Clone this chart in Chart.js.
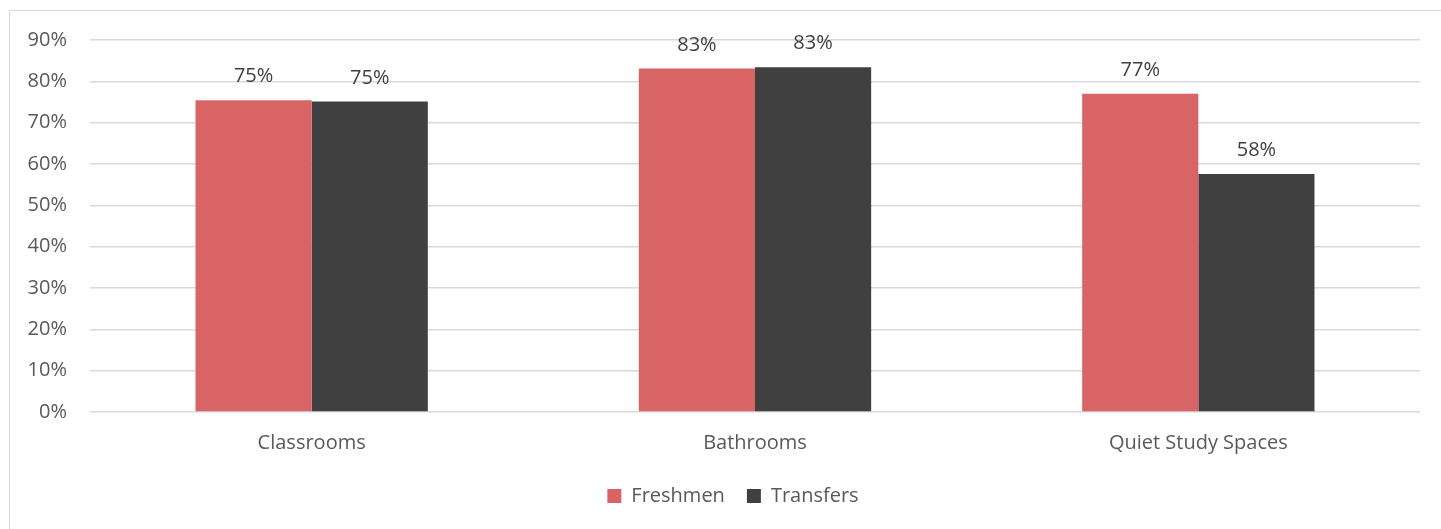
<!DOCTYPE html>
<html>
<head>
<meta charset="utf-8">
<script src="https://cdn.jsdelivr.net/npm/chart.js@4"></script>
<style>
  html, body { margin: 0; padding: 0; background: #fff; }
  #wrap { position: relative; width: 1441px; height: 529px; overflow: hidden; }
  #frame { position: absolute; left: 9px; top: 10px; width: 1450px; height: 540px; border: 1px solid #d9d9d9; box-sizing: border-box; }
  #chart { position: absolute; left: 0; top: 0; }
</style>
</head>
<body>
<div id="wrap">
  <div id="frame"></div>
  <canvas id="chart" width="1441" height="529"></canvas>
</div>
<script>
const categories = ['Classrooms', 'Bathrooms', 'Quiet Study Spaces'];
const freshmen = [75.4, 83.1, 77.0];
const transfers = [75.1, 83.4, 57.6];
const yTicks = [0, 10, 20, 30, 40, 50, 60, 70, 80, 90];

const FONT = '"Open Sans", sans-serif';

// draws the rounded percentage above every bar
const barLabels = {
  id: 'barLabels',
  afterDatasetsDraw(chart) {
    const ctx = chart.ctx;
    ctx.save();
    ctx.font = '20px ' + FONT;
    ctx.fillStyle = '#404040';
    ctx.textAlign = 'center';
    ctx.textBaseline = 'alphabetic';
    chart.data.datasets.forEach((ds, i) => {
      chart.getDatasetMeta(i).data.forEach((bar, j) => {
        ctx.fillText(Math.round(ds.data[j]) + '%', bar.x, bar.y - 18);
      });
    });
    ctx.restore();
  }
};

// the original legend sits a little right of the canvas centre
const legendShift = {
  id: 'legendShift',
  afterLayout(chart) {
    chart.legend.left += 23;
    chart.legend.right += 23;
  }
};

new Chart(document.getElementById('chart'), {
  type: 'bar',
  data: {
    labels: categories,
    datasets: [
      { label: 'Freshmen', data: freshmen, backgroundColor: '#d96465' },
      { label: 'Transfers', data: transfers, backgroundColor: '#404040' }
    ]
  },
  options: {
    responsive: false,
    animation: false,
    layout: { padding: { top: 40, right: 21, left: 0, bottom: 13 } },
    datasets: { bar: { barPercentage: 1, categoryPercentage: 0.524 } },
    plugins: {
      tooltip: { enabled: false },
      legend: {
        position: 'bottom',
        labels: {
          font: { family: FONT, size: 20 },
          color: '#595959',
          boxWidth: 14,
          boxHeight: 14,
          padding: 22
        }
      }
    },
    scales: {
      x: {
        grid: { display: false },
        border: { display: false },
        ticks: { font: { family: FONT, size: 20 }, color: '#595959', padding: 11 },
        afterFit(scale) { scale.height = 52; }
      },
      y: {
        min: 0,
        max: 90,
        afterBuildTicks(scale) { scale.ticks = yTicks.map(v => ({ value: v })); },
        grid: { color: '#d9d9d9', lineWidth: 1.5, drawTicks: false },
        border: { display: false },
        ticks: {
          font: { family: FONT, size: 20 },
          color: '#595959',
          padding: 23,
          callback: v => v + '%'
        },
        afterFit(scale) { scale.width = 90; }
      }
    }
  },
  plugins: [barLabels, legendShift]
});
</script>
</body>
</html>
